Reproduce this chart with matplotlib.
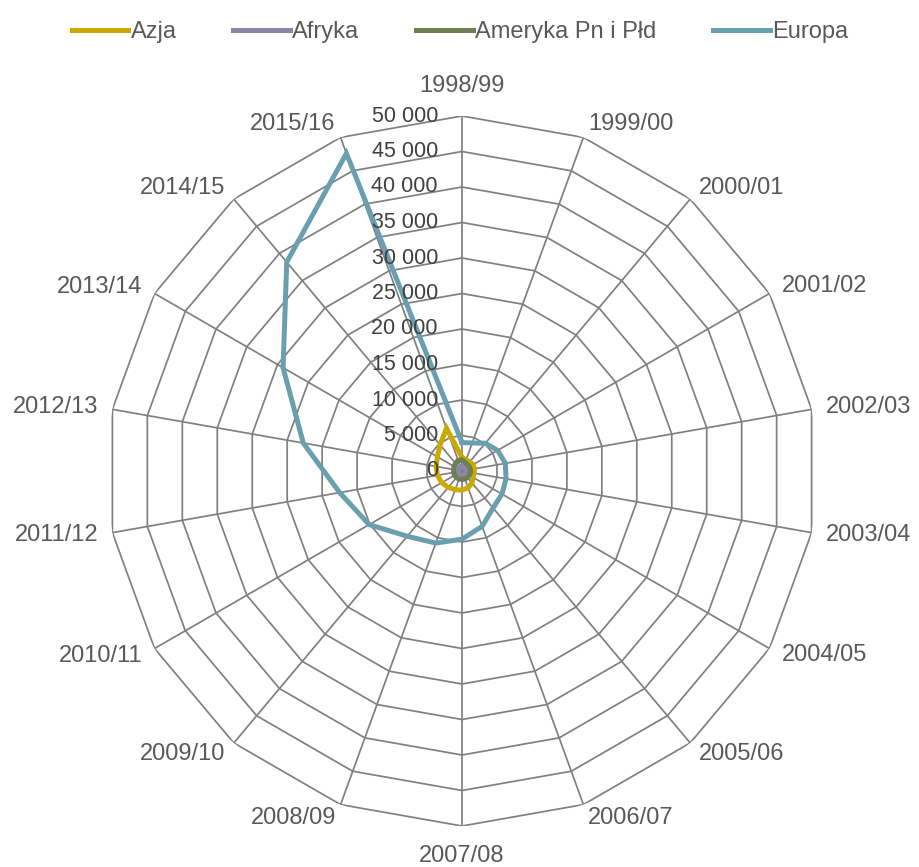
import numpy as np
import matplotlib.pyplot as plt

seasons = ['1998/99', '1999/00', '2000/01', '2001/02', '2002/03', '2003/04',
           '2004/05', '2005/06', '2006/07', '2007/08', '2008/09', '2009/10',
           '2010/11', '2011/12', '2012/13', '2013/14', '2014/15', '2015/16']

azja = [1900, 1700, 1700, 1800, 1800, 1700, 1800, 2200, 2500,
        2700, 2800, 3000, 3300, 3500, 3700, 4000, 4800, 6400]
afryka = [600, 600, 600, 600, 600, 600, 600, 600, 600,
          600, 600, 600, 600, 600, 600, 600, 650, 700]
ameryka = [1500, 1300, 1200, 1200, 1200, 1200, 1200, 1200, 1200,
           1200, 1200, 1200, 1200, 1200, 1200, 1300, 1400, 1600]
europa = [4000, 4200, 5100, 5800, 6200, 6300, 6500, 6800, 8300,
          9600, 10800, 12000, 15100, 17500, 22700, 29100, 38400, 47600]

ticks = [0, 5000, 10000, 15000, 20000, 25000, 30000, 35000, 40000, 45000, 50000]
tick_labels = ['0', '5 000', '10 000', '15 000', '20 000', '25 000',
               '30 000', '35 000', '40 000', '45 000', '50 000']

series = [('Azja', azja, '#CBA900'),
          ('Afryka', afryka, '#8A86A3'),
          ('Ameryka Pn i Płd', ameryka, '#6E7F55'),
          ('Europa', europa, '#6A9FAF')]

plt.rcParams['font.family'] = ['Liberation Sans', 'DejaVu Sans']

fig = plt.figure(figsize=(9.2, 8.67), dpi=100)
ax = fig.add_axes([462 / 920 - 355 / 920, 1 - (471 + 355) / 867, 710 / 920, 710 / 867],
                  projection='polar')
ax.set_theta_offset(np.pi / 2)
ax.set_theta_direction(-1)
ax.set_ylim(0, 50000)
ax.grid(False)
ax.spines['polar'].set_visible(False)
ax.set_xticks([])
ax.set_yticks([])
ax.patch.set_alpha(0)

n = len(seasons)
theta = np.arange(n) * 2 * np.pi / n
theta_closed = np.append(theta, theta[0])

# polygon grid
grid_col = '#808080'
for t in ticks[1:]:
    ax.plot(theta_closed, [t] * (n + 1), color=grid_col, lw=1.25, zorder=1)
for th in theta:
    ax.plot([th, th], [0, 50000], color=grid_col, lw=1.25, zorder=1)

for name, vals, col in series:
    ax.plot(theta_closed, vals + [vals[0]], color=col, lw=3.6, label=name,
            solid_joinstyle='miter', zorder=3)

# radial tick labels
for t, lab in zip(ticks, tick_labels):
    ax.annotate(lab, xy=(0, t), xytext=(-24, 0), textcoords='offset pixels',
                ha='right', va='center', fontsize=15.5, color='#404040', zorder=4)

# category labels
for th, lab in zip(theta, seasons):
    s = np.sin(th)
    c = np.cos(th)
    if s > 0.05:
        ha = 'left'
    elif s < -0.05:
        ha = 'right'
    else:
        ha = 'center'
    gap = 30 if abs(s) < 0.05 else 14
    ax.annotate(lab, xy=(th, 50000), xytext=(gap * s, gap * c),
                textcoords='offset pixels', ha=ha, va='center',
                fontsize=17, color='#595959', annotation_clip=False)

fig.legend(loc='upper center', bbox_to_anchor=(0.5, 1.0), ncol=4, frameon=False,
           handlelength=2.4, handletextpad=0.1, columnspacing=2.4,
           labelcolor='#595959', prop={'size': 17})

fig.savefig('out.png', dpi=100)
